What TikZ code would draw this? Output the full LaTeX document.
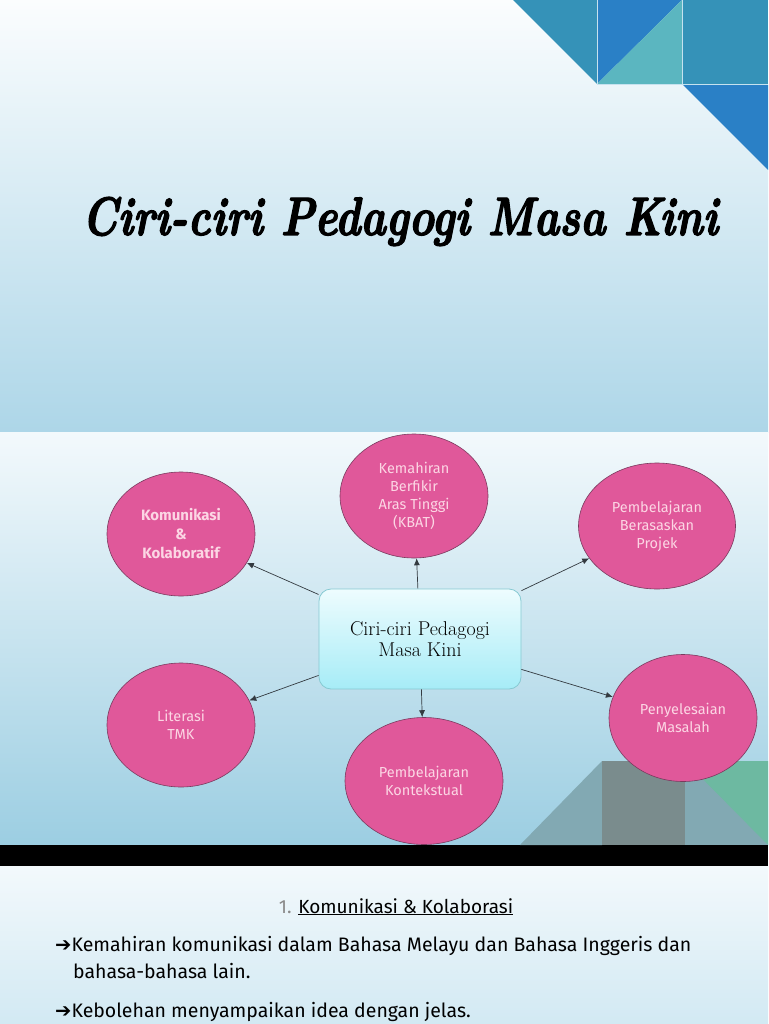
\documentclass[tikz,border=0pt]{standalone}
\usepackage{fontspec}
\usepackage{tikz}
\usetikzlibrary{arrows,arrows.meta,shapes,calc,positioning}
\newfontfamily\bodyfont{Fira Sans}
\newfontfamily\arrowfont{DejaVu Sans}
\newfontfamily\titlefont[FakeBold=2.5]{lmroman10-bolditalic.otf}
\definecolor{SlideWhite}{HTML}{FBFDFE}
\definecolor{SlideBlue}{HTML}{ADD6E8}
\definecolor{SlideTwoTop}{HTML}{F3F9FC}
\definecolor{SlideTwoBottom}{HTML}{9CCEE2}
\definecolor{SlideThreeBottom}{HTML}{D2E9F3}
\definecolor{DecoTeal}{HTML}{3592B8}
\definecolor{DecoBlue}{HTML}{2A80C6}
\definecolor{DecoAqua}{HTML}{5BB6C0}
\definecolor{DecoGrey}{HTML}{7A8C8D}
\definecolor{DecoSlate}{HTML}{82A9B3}
\definecolor{DecoGreen}{HTML}{6DB9A1}
\definecolor{BubblePink}{HTML}{E0589A}
\definecolor{BubbleEdge}{HTML}{7A3A5E}
\definecolor{BubbleText}{HTML}{FCD6E4}
\definecolor{CoreTop}{HTML}{EEFCFE}
\definecolor{CoreBottom}{HTML}{A6ECF7}
\definecolor{CoreEdge}{HTML}{86C9D2}
\definecolor{LinkGrey}{HTML}{333A40}
\definecolor{NumberGrey}{HTML}{8A8A8A}

\tikzset{
  bubble/.style={ellipse, fill=BubblePink, draw=BubbleEdge, line width=0.6pt,
    minimum width=148pt, minimum height=124pt, inner sep=0pt, align=center,
    text=BubbleText, font=\bodyfont\fontsize{14.5}{18}\selectfont},
  corebox/.style={rectangle, rounded corners=12pt, draw=CoreEdge, line width=0.8pt,
    top color=CoreTop, bottom color=CoreBottom, minimum width=202pt,
    minimum height=100pt, align=center, font=\fontsize{20}{21}\selectfont},
  link/.style={-{Latex[length=7pt,width=6pt]}, LinkGrey, line width=0.7pt},
  bodyline/.style={anchor=base west, inner sep=0pt,
    font=\bodyfont\fontsize{19.5}{23}\selectfont}
}

\begin{document}
\begin{tikzpicture}[x=1pt,y=-1pt]
\useasboundingbox (0,0) rectangle (768,1024);

\shade[top color=SlideWhite, bottom color=SlideBlue] (0,0) rectangle (768,432);
\shade[top color=SlideTwoTop, bottom color=SlideTwoBottom] (0,432) rectangle (768,845);
\fill[black] (0,845) rectangle (768,866);
\shade[top color=SlideTwoTop, bottom color=SlideThreeBottom] (0,866) rectangle (768,1024);

\fill[DecoTeal] (513,0) -- (597,84) -- (597,0) -- cycle;
\fill[DecoBlue] (597,0) -- (682,0) -- (597,84) -- cycle;
\fill[DecoAqua] (682,0) -- (682,84) -- (597,84) -- cycle;
\fill[DecoTeal] (683,0) rectangle (768,85);
\fill[DecoBlue] (683,85) -- (768,85) -- (768,170) -- cycle;
\draw[SlideBlue!70!white, line width=0.5pt] (597,0) -- (597,84) -- (768,84) (682,0) -- (682,84);

\fill[DecoSlate] (520,845) -- (602,761) -- (602,845) -- cycle;
\fill[DecoGrey] (602,761) rectangle (685,845);
\fill[DecoSlate] (685,761) rectangle (768,845);
\fill[DecoGreen] (685,761) -- (768,761) -- (768,845) -- cycle;

\node[anchor=base, inner sep=0pt, font=\titlefont\fontsize{54}{60}\selectfont] (title) at (400,235) {\resizebox{636pt}{\height}{Ciri-ciri Pedagogi Masa Kini}};

\node[corebox] (core) at (420,639) {Ciri-ciri Pedagogi\\Masa Kini};

\node[bubble, font=\bodyfont\bfseries\fontsize{15}{19}\selectfont] (kom) at (181,534) {Komunikasi\\\&\\Kolaboratif};
\node[bubble] (kbat) at (414,496) {Kemahiran\\Berfikir\\Aras Tinggi\\(KBAT)};
\node[bubble, minimum width=157pt, minimum height=126pt] (projek) at (657,526) {Pembelajaran\\Berasaskan\\Projek};
\node[bubble] (literasi) at (181,725) {Literasi\\TMK};
\node[bubble, minimum width=158pt, minimum height=127pt] (konteks) at (424,781) {Pembelajaran\\Kontekstual};
\node[bubble, minimum height=127pt] (masalah) at (683,718) {Penyelesaian\\Masalah};

\draw[link] (core) -- (kom);
\draw[link] (core) -- (kbat);
\draw[link] (core) -- (projek);
\draw[link] (core) -- (literasi);
\draw[link] (core) -- (konteks);
\draw[link] (core) -- (masalah);

\node[anchor=base, inner sep=0pt, font=\bodyfont\fontsize{19}{23}\selectfont] (heading) at (396,913) {\textcolor{NumberGrey}{1.} \underline{Komunikasi \& Kolaborasi}};
\node[bodyline] (pointone) at (55,951) {{\arrowfont ➔}Kemahiran komunikasi dalam Bahasa Melayu dan Bahasa Inggeris dan};
\node[bodyline] (pointonecont) at (73,978) {bahasa-bahasa lain.};
\node[bodyline] (pointtwo) at (55,1017) {{\arrowfont ➔}Kebolehan menyampaikan idea dengan jelas.};

\end{tikzpicture}
\end{document}
